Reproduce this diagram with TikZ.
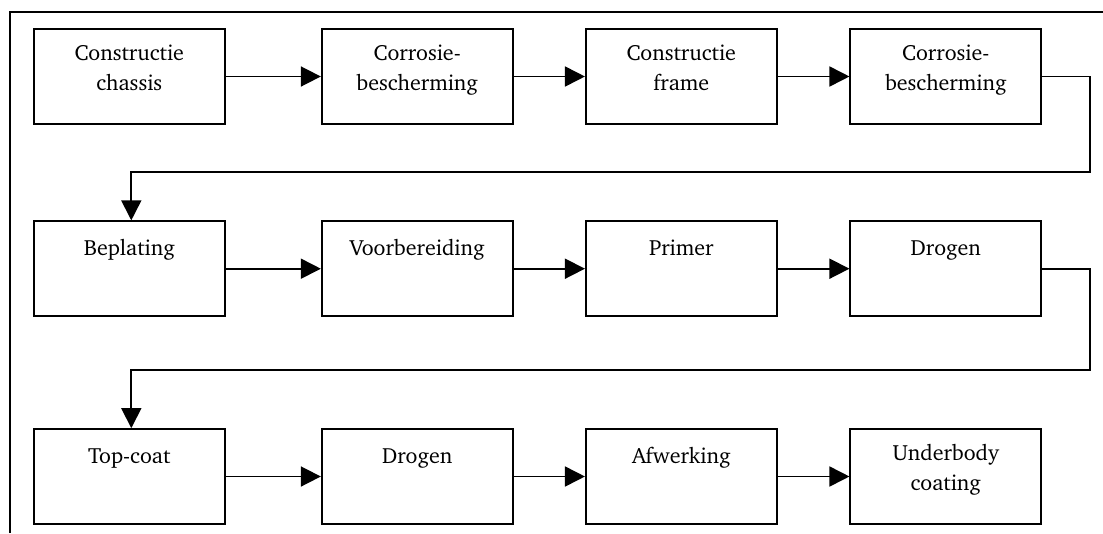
\documentclass[tikz,border=0pt]{standalone}
\usepackage[T1]{fontenc}
\usepackage{charter}
\usetikzlibrary{arrows.meta}
\begin{document}
\begin{tikzpicture}[x=1pt,y=-1pt,
  stepbox/.style={draw,line width=1.7pt,minimum width=191pt,minimum height=95pt,inner sep=0pt},
  lbl/.style={anchor=base,align=center,inner sep=0pt,font=\fontsize{22}{30}\selectfont},
  conn/.style={line width=1.7pt,-{Triangle[length=20pt,width=20pt]}},
  frame/.style={line width=1.4pt}]
\useasboundingbox (0,0) rectangle (1103,533);
\draw[frame] (10,533) -- (10,12) -- (1103,12);
% row 1
\node[stepbox] (b1) at (129.3,76.5) {};
\node[stepbox] (b2) at (417.2,76.5) {};
\node[stepbox] (b3) at (681.3,76.5) {};
\node[stepbox] (b4) at (945.8,76.5) {};
% row 2
\node[stepbox] (b5) at (129.3,268.7) {};
\node[stepbox] (b6) at (417.2,268.7) {};
\node[stepbox] (b7) at (681.3,268.7) {};
\node[stepbox] (b8) at (945.8,268.7) {};
% row 3
\node[stepbox] (b9) at (129.3,476.5) {};
\node[stepbox] (b10) at (417.2,476.5) {};
\node[stepbox] (b11) at (681.3,476.5) {};
\node[stepbox] (b12) at (945.8,476.5) {};
% labels (base = baseline of last line)
\node[lbl] (t1) at ([yshift=-62pt]b1.north) {Constructie\\chassis};
\node[lbl] (t2) at ([yshift=-62pt]b2.north) {Corrosie-\\bescherming};
\node[lbl] (t3) at ([yshift=-62pt]b3.north) {Constructie\\frame};
\node[lbl] (t4) at ([yshift=-62pt]b4.north) {Corrosie-\\bescherming};
\node[lbl] (t5) at ([yshift=-35pt]b5.north) {Beplating};
\node[lbl] (t6) at ([yshift=-35pt]b6.north) {Voorbereiding};
\node[lbl] (t7) at ([yshift=-35pt]b7.north) {Primer};
\node[lbl] (t8) at ([yshift=-35pt]b8.north) {Drogen};
\node[lbl] (t9) at ([yshift=-35pt]b9.north) {Top-coat};
\node[lbl] (t10) at ([yshift=-35pt]b10.north) {Drogen};
\node[lbl] (t11) at ([yshift=-35pt]b11.north) {Afwerking};
\node[lbl] (t12) at ([yshift=-62pt]b12.north) {Underbody\\coating};
% connectors
\coordinate (r1a) at (1090,76.5);
\coordinate (r1b) at (1090,172.3);
\coordinate (r2a) at (1090,268.7);
\coordinate (r2b) at (1090,370);
\draw[conn] (b1) -- (b2);
\draw[conn] (b2) -- (b3);
\draw[conn] (b3) -- (b4);
\draw[conn] (b4.east) -- (r1a) -- (r1b) -| ([xshift=2pt]b5.north);
\draw[conn] (b5) -- (b6);
\draw[conn] (b6) -- (b7);
\draw[conn] (b7) -- (b8);
\draw[conn] (b8.east) -- (r2a) -- (r2b) -| ([xshift=2pt]b9.north);
\draw[conn] (b9) -- (b10);
\draw[conn] (b10) -- (b11);
\draw[conn] (b11) -- (b12);
\end{tikzpicture}
\end{document}
